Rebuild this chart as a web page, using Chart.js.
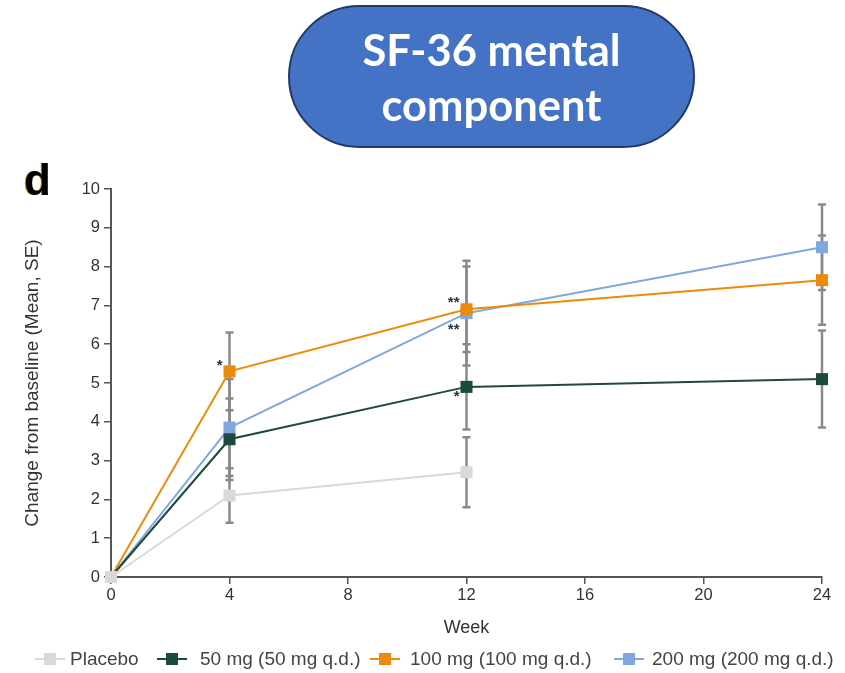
<!DOCTYPE html>
<html>
<head>
<meta charset="utf-8">
<script src="https://cdn.jsdelivr.net/npm/chart.js@4.4.1/dist/chart.umd.min.js"></script>
<style>
  html, body { margin: 0; padding: 0; background: #fff; }
  body { width: 845px; height: 673px; position: relative; overflow: hidden; font-family: "Liberation Sans", Arial, sans-serif; }
  #wrap { position: absolute; left: 0; top: 0; width: 845px; height: 673px; }
  .pill {
    position: absolute; left: 288px; top: 5px; width: 403px; height: 139px;
    background: #4472C4; border: 2px solid #233A66; border-radius: 72px;
    color: #fff; font-family: Lato, "Open Sans", sans-serif; font-weight: bold;
    font-size: 43.5px; line-height: 55px; text-align: center;
    display: flex; align-items: center; justify-content: center;
  }
  .panel {
    position: absolute; left: 24px; top: 155px; font-family: "Liberation Sans", Arial, sans-serif;
    font-weight: bold; font-size: 44px; color: #000; text-shadow: -1px 0 #E8890C;
  }
  .legend { position: absolute; left: 0; top: 648px; width: 845px; height: 22px; font-size: 19px; color: #444; }
  .legend .sym { position: absolute; top: 4px; }
  .legend .txt { position: absolute; top: 0; white-space: nowrap; }
</style>
</head>
<body>
<div id="wrap"><canvas id="sfChart"></canvas></div>
<div class="pill">SF-36 mental<br>component</div>
<div class="panel">d</div>
<div class="legend" id="legend"></div>
<script>
// Data
const weeks = [0, 4, 12, 24];
const seriesNames = ['Placebo', '50 mg (50 mg q.d.)', '100 mg (100 mg q.d.)', '200 mg (200 mg q.d.)'];

const placeboMean = [0, 2.1, 2.7, null];
const mg50Mean = [0, 3.55, 4.9, 5.1];
const mg100Mean = [0, 5.3, 6.9, 7.65];
const mg200Mean = [0, 3.85, 6.8, 8.5];

const placeboSE = [0, 0.7, 0.9, null];
const mg50SE = [0, 1.05, 1.1, 1.25];
const mg100SE = [0, 1.0, 1.1, 1.15];
const mg200SE = [0, 1.25, 1.35, 1.1];

const placeboSig = ['', '', '', ''];
const mg50Sig = ['', '', '*', ''];
const mg100Sig = ['', '*', '**', ''];
const mg200Sig = ['', '', '**', ''];

const yTicks = [0, 1, 2, 3, 4, 5, 6, 7, 8, 9, 10];
const xTicks = [0, 4, 8, 12, 16, 20, 24];

const colors = ['#D9D9D9', '#1D4A3C', '#EE8A0A', '#7FA9DC'];
// legend symbol / text left edges
const legendSymX = [35, 157, 370, 614];
const legendTxtX = [70, 200, 410, 652];

function points(mean) {
    return weeks.map((w, i) => ({ x: w, y: mean[i] }));
}

function makeSeries(i, mean, se, sig, sigDy) {
    return {
        label: seriesNames[i],
        data: points(mean),
        se: se,
        sig: sig,
        sigDy: sigDy,
        borderColor: colors[i],
        backgroundColor: colors[i],
        borderWidth: 2,
        pointStyle: 'rect',
        pointRadius: 8.5,
        pointHoverRadius: 8.5,
        pointBorderWidth: 0,
        spanGaps: false,
        clip: false,
        tension: 0
    };
}

// error bars + significance stars
const errorBars = {
    id: 'errorBars',
    beforeDatasetsDraw(chart) {
        const ctx = chart.ctx;
        const xs = chart.scales.x, ys = chart.scales.y;
        ctx.save();
        ctx.strokeStyle = '#8A8A8A';
        ctx.lineWidth = 2.5;
        chart.data.datasets.forEach(ds => {
            ds.data.forEach((p, i) => {
                const e = ds.se[i];
                if (p.y == null || !e) return;
                const x = xs.getPixelForValue(p.x);
                const top = ys.getPixelForValue(p.y + e);
                const bot = ys.getPixelForValue(p.y - e);
                ctx.beginPath();
                ctx.moveTo(x, top); ctx.lineTo(x, bot);
                ctx.moveTo(x - 4, top); ctx.lineTo(x + 4, top);
                ctx.moveTo(x - 4, bot); ctx.lineTo(x + 4, bot);
                ctx.stroke();
            });
        });
        ctx.restore();
    },
    afterDatasetsDraw(chart) {
        const ctx = chart.ctx;
        const xs = chart.scales.x, ys = chart.scales.y;
        ctx.save();
        ctx.fillStyle = '#333';
        ctx.font = 'bold 15px "Liberation Sans", Arial, sans-serif';
        ctx.textAlign = 'right';
        ctx.textBaseline = 'middle';
        chart.data.datasets.forEach(ds => {
            ds.data.forEach((p, i) => {
                if (!ds.sig[i]) return;
                const x = xs.getPixelForValue(p.x);
                const y = ys.getPixelForValue(p.y);
                ctx.fillText(ds.sig[i], x - 7, y + ds.sigDy);
            });
        });
        ctx.restore();
    }
};

const tickFont = { family: '"Liberation Sans", Arial, sans-serif', size: 16.5 };
const titleFont = { family: '"Liberation Sans", Arial, sans-serif', size: 19 };

new Chart(document.getElementById('sfChart'), {
    type: 'line',
    data: {
        datasets: [
            makeSeries(0, placeboMean, placeboSE, placeboSig, 0),
            makeSeries(1, mg50Mean, mg50SE, mg50Sig, 10),
            makeSeries(2, mg100Mean, mg100SE, mg100Sig, -6),
            makeSeries(3, mg200Mean, mg200SE, mg200Sig, 17)
        ]
    },
    options: {
        responsive: true,
        maintainAspectRatio: false,
        animation: false,
        layout: { padding: { left: 10, top: 189, right: 23, bottom: 31 } },
        plugins: { legend: { display: false }, tooltip: { enabled: false } },
        scales: {
            x: {
                type: 'linear',
                min: 0, max: 24,
                afterBuildTicks: s => { s.ticks = xTicks.map(v => ({ value: v })); },
                afterFit: s => { s.height = 65; },
                grid: { display: true, drawOnChartArea: false, drawTicks: true, tickLength: 7, color: '#555', lineWidth: 1.5 },
                border: { color: '#555', width: 2 },
                ticks: { color: '#333', font: tickFont, padding: 2, maxRotation: 0 },
                title: { display: true, text: 'Week', color: '#333', font: { family: '"Liberation Sans", Arial, sans-serif', size: 18 }, padding: { top: 0, bottom: 3 } }
            },
            y: {
                min: 0, max: 10,
                afterBuildTicks: s => { s.ticks = yTicks.map(v => ({ value: v })); },
                afterFit: s => { s.width = 101; },
                grid: { display: true, drawOnChartArea: false, drawTicks: true, tickLength: 7, color: '#555', lineWidth: 1.5 },
                border: { color: '#555', width: 2 },
                ticks: { color: '#333', font: tickFont, padding: 4 },
                title: { display: true, text: 'Change from baseline (Mean, SE)', color: '#333', font: titleFont, padding: { top: 11, bottom: 0 } }
            }
        }
    },
    plugins: [errorBars]
});

// legend with line + square symbols
const legend = document.getElementById('legend');
seriesNames.forEach((name, i) => {
    const c = document.createElement('canvas');
    c.className = 'sym';
    c.width = 30; c.height = 14;
    c.style.left = legendSymX[i] + 'px';
    const g = c.getContext('2d');
    g.strokeStyle = colors[i]; g.lineWidth = 2;
    g.beginPath(); g.moveTo(0, 7); g.lineTo(30, 7); g.stroke();
    g.fillStyle = colors[i]; g.fillRect(9, 1, 12, 12);
    legend.appendChild(c);
    const t = document.createElement('span');
    t.className = 'txt';
    t.style.left = legendTxtX[i] + 'px';
    t.textContent = name;
    legend.appendChild(t);
});
</script>
</body>
</html>
